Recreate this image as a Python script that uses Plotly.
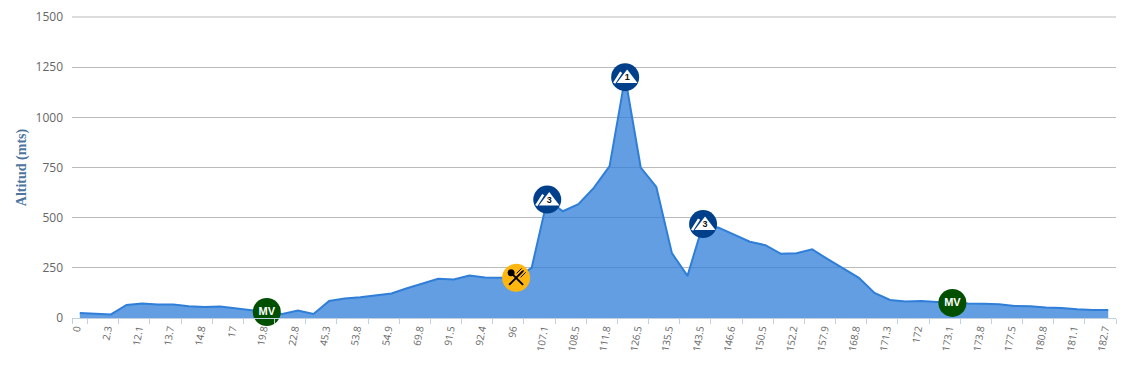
import plotly.graph_objects as go

tick_labels = ["0","2.3","12.1","13.7","14.8","17","19.8","22.8","45.3","53.8","54.9","69.8",
               "91.5","92.4","96","107.1","108.5","111.8","126.5","135.5","143.5","146.6",
               "150.5","152.2","157.9","168.8","171.3","172","173.1","173.8","177.5","180.8",
               "181.1","182.7"]
altitude = [25,22,18,65,72,67,67,58,55,57,48,40,30,20,37,20,85,97,103,113,122,148,172,195,192,
            212,202,202,200,250,590,532,567,650,757,1200,750,653,323,210,468,450,415,380,363,
            320,323,342,293,245,200,125,90,82,85,80,75,72,71,68,60,58,52,50,44,40,40]
mv_points = [12, 56]
food_points = [28]
pass_points = [30, 35, 40]
pass_grades = ["3", "1", "3"]

idx = list(range(len(altitude)))
label_idx = idx[::2]
between = [-0.5] + [i + 0.5 for i in label_idx]
NAVY = "#003f8a"
GREEN = "#005000"
GRID = "#bbbbbb"
PX_X = 1 / 15.58   # one pixel in category units
PX_Y = 1500 / 301.5  # one pixel in altitude units

fig = go.Figure()
fig.add_trace(go.Scatter(x=idx, y=altitude, mode="lines", fill="tozeroy",
                         fillcolor="rgba(47,126,216,0.75)",
                         line=dict(color="#2f7ed8", width=2), hoverinfo="skip"))

def markers(xs, ys, **kw):
    fig.add_trace(go.Scatter(x=xs, y=ys, mode="markers", cliponaxis=False, hoverinfo="skip", **kw))

# Mountain pass
py = [altitude[i] for i in pass_points]
markers(pass_points, py, marker=dict(size=28, color=NAVY))
markers([i + 2 * PX_X for i in pass_points], [v - 1.3 * PX_Y for v in py],
        marker=dict(symbol="triangle-up", size=18, color="white"))
sx, sy = [], []
for i, v in zip(pass_points, py):
    sx += [i - 11 * PX_X, i - 4 * PX_X, None]
    sy += [v - 6 * PX_Y, v + 5 * PX_Y, None]
fig.add_trace(go.Scatter(x=sx, y=sy, mode="lines", line=dict(color="white", width=2.5),
                         cliponaxis=False, hoverinfo="skip"))
fig.add_trace(go.Scatter(x=[i + 2 * PX_X for i in pass_points], y=[v - 1 * PX_Y for v in py], mode="text",
                         text=pass_grades, cliponaxis=False, hoverinfo="skip",
                         textfont=dict(family="Liberation Sans", size=9, color="#111111", weight="bold")))

# Green MV
my = [altitude[i] for i in mv_points]
markers(mv_points, my, marker=dict(size=28, color=GREEN))
fig.add_trace(go.Scatter(x=mv_points, y=my, mode="text", text=["MV"] * len(mv_points), cliponaxis=False,
                         hoverinfo="skip",
                         textfont=dict(family="Liberation Sans", size=11, color="white", weight="bold")))

# Food stop
fy = [altitude[i] for i in food_points]
markers(food_points, fy, marker=dict(size=28, color="#ffb70f"))
markers(food_points, fy, marker=dict(symbol="x-thin", size=14, line=dict(color="black", width=2)))
markers([i - 5 * PX_X for i in food_points], [v + 5 * PX_Y for v in fy],
        marker=dict(size=7, color="black"))
for dx, dy in [(3, 7), (5, 5), (7, 3)]:
    markers([i + dx * PX_X for i in food_points], [v + dy * PX_Y for v in fy],
            marker=dict(symbol="line-ne", size=5, line=dict(color="black", width=1)))

fig.update_layout(
    width=1122, height=359, showlegend=False,
    margin=dict(l=64, r=14, t=8.5, b=49, pad=0),
    paper_bgcolor="white", plot_bgcolor="white",
    shapes=[dict(type="line", xref="paper", yref="paper", x0=0, x1=1, y0=1, y1=1,
                 line=dict(color=GRID, width=1))],
    xaxis=dict(range=[-0.5, len(altitude) - 0.5], tickmode="array", automargin=False,
               tickvals=[i - 0.25 for i in label_idx], ticktext=tick_labels,
               tickangle=-80, ticks="", showgrid=False, zeroline=False,
               showline=True, linecolor="#c0d0e0", linewidth=1,
               tickfont=dict(family="Open Sans", size=10, color="#666666"),
               minor=dict(tickmode="array", tickvals=between, ticks="outside", ticklen=5,
                          tickcolor="#c0d0e0", tickwidth=1, showgrid=False)),
    yaxis=dict(range=[0, 1500], tickvals=[0, 250, 500, 750, 1000, 1250, 1500], automargin=False,
               showgrid=True, gridcolor=GRID, gridwidth=1, zeroline=False, showline=False,
               ticks="", ticklabelstandoff=8,
               tickfont=dict(family="Open Sans", size=12, color="#666666"),
               title=dict(text="<b>Altitud (mts)</b>", standoff=5,
                          font=dict(family="Liberation Serif", size=14, color="#4d759e"))),
)
fig.write_html("out.html", config=dict(displayModeBar=False))
